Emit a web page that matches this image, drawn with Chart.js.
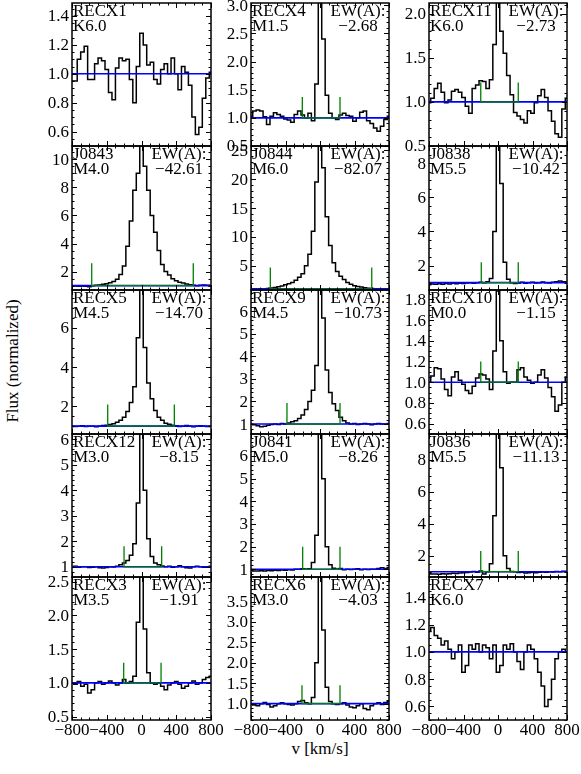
<!DOCTYPE html>
<html><head><meta charset="utf-8">
<script src="https://cdn.jsdelivr.net/npm/chart.js@4.4.1/dist/chart.umd.min.js"></script>
<style>
html,body{margin:0;padding:0;background:#fff;}
#fig{position:relative;width:581px;height:774px;overflow:hidden;background:#fff;}
#fig canvas{position:absolute;}
.lab{position:absolute;font-size:17px;color:#000;white-space:nowrap;line-height:1;}
</style></head><body><div id="fig"></div>
<script>
// ---------------- data ----------------
const velocity = [-800,-760,-720,-680,-640,-600,-560,-520,-480,-440,-400,-360,-320,-280,-240,-200,-160,-120,-80,-40,0,40,80,120,160,200,240,280,320,360,400,440,480,520,560,600,640,680,720,760,800];

const fluxRECX1 = [0.95,0.95,1.10,1.15,1.19,0.96,0.96,1.07,1.11,1.09,1.03,0.87,0.82,1.04,1.11,1.09,1.10,0.96,0.80,1.05,1.28,1.20,1.06,1.08,0.96,0.93,1.03,1.07,1.00,1.11,1.00,0.89,1.05,1.01,0.92,0.70,0.58,0.63,0.83,0.97,1.01];
const fluxRECX4 = [1.03,1.12,1.14,1.12,1.02,0.88,1.03,1.09,1.06,1.03,0.98,0.96,0.92,1.06,1.12,1.05,1.00,1.08,0.95,1.60,3.40,2.40,1.40,1.08,1.00,0.97,1.05,1.08,1.04,1.03,0.94,1.00,1.10,1.12,0.95,0.90,0.82,0.76,0.85,0.97,1.03];
const fluxRECX11 = [0.99,1.04,1.15,1.21,1.11,0.99,1.02,1.12,1.14,1.11,1.05,0.95,0.87,1.15,1.19,1.24,1.23,1.15,1.25,1.65,2.20,1.80,1.55,1.30,1.08,0.88,0.84,0.80,0.76,0.90,0.87,0.99,1.07,1.14,1.05,0.90,0.78,0.64,0.60,0.92,1.04];
const fluxJ0843 = [0.98,0.98,0.95,0.97,0.96,0.93,1.00,1.02,1.05,1.10,1.14,1.20,1.30,1.45,1.80,2.40,3.80,5.60,7.80,9.00,12.0,9.50,7.80,6.00,4.80,3.50,2.50,2.00,1.75,1.50,1.35,1.25,1.18,1.12,1.07,1.02,1.00,1.03,1.05,1.03,1.00];
const fluxJ0844 = [1.00,0.95,0.98,1.00,0.97,1.05,1.15,1.25,1.35,1.50,1.70,1.90,2.10,2.50,3.00,3.60,5.00,7.00,11.0,19.5,30.0,22.0,13.5,8.50,5.50,4.00,3.20,2.60,2.10,1.80,1.55,1.40,1.30,1.20,1.12,1.05,1.00,1.02,0.98,1.00,1.00];
const fluxJ0838 = [0.88,0.92,0.90,0.93,0.90,0.95,0.92,0.96,0.94,0.97,0.95,0.98,1.00,0.97,1.00,1.02,1.00,1.05,1.25,4.00,11.0,6.80,2.20,1.20,1.00,0.95,0.98,1.02,0.97,1.00,1.03,0.98,1.00,1.04,1.00,0.98,1.02,1.05,1.10,1.06,1.02];
const fluxRECX5 = [1.00,0.98,1.00,1.02,0.98,1.00,1.00,0.97,1.00,1.03,1.05,1.08,1.12,1.20,1.30,1.45,1.75,2.20,3.00,5.50,9.00,5.00,3.20,2.40,1.80,1.45,1.30,1.15,1.10,1.05,1.02,0.98,1.00,1.03,1.00,0.97,1.00,1.02,1.00,0.98,1.00];
const fluxRECX9 = [1.00,0.97,0.92,0.88,0.90,0.95,0.98,1.00,0.98,1.02,1.00,1.05,1.10,1.15,1.25,1.40,1.65,2.00,2.50,3.60,7.50,5.70,3.40,2.40,1.90,1.60,1.30,1.15,1.05,1.00,1.02,0.98,1.00,1.03,1.00,0.97,1.00,1.02,1.00,1.00,1.02];
const fluxRECX10 = [1.00,1.06,1.14,1.13,1.03,0.93,0.87,1.05,1.10,1.02,0.98,0.92,0.89,0.96,1.04,1.08,1.07,1.03,0.93,1.30,1.88,1.40,1.10,0.99,1.00,1.00,1.12,1.14,1.05,1.02,0.99,1.00,1.07,1.12,1.04,0.95,0.86,0.72,0.78,1.00,1.05];
const fluxRECX12 = [1.00,1.02,0.98,1.00,1.00,0.97,0.98,1.00,0.96,0.95,0.97,1.00,0.99,1.02,1.08,1.15,1.25,1.45,1.90,3.50,7.00,4.00,2.10,1.40,1.15,1.08,1.03,1.00,1.02,0.98,1.00,1.04,1.00,0.96,0.95,1.00,1.02,1.00,0.98,1.00,1.02];
const fluxJ0841 = [0.95,0.93,0.92,0.94,0.93,0.95,0.94,0.96,0.95,0.97,0.96,0.98,0.97,1.00,1.00,1.02,1.00,1.02,1.30,2.50,8.00,5.00,2.00,1.20,1.05,1.00,1.03,0.98,1.00,0.99,1.00,1.02,0.98,1.00,0.99,1.00,1.00,1.03,1.07,1.04,1.08];
const fluxJ0836 = [0.92,0.85,0.86,0.84,0.87,0.85,0.88,0.90,0.89,0.92,0.93,0.95,0.98,1.02,0.97,1.05,0.85,1.00,1.50,4.50,12.0,7.50,2.00,1.20,1.02,1.00,0.95,0.97,0.92,0.94,0.96,0.93,0.97,0.98,0.96,1.00,0.98,1.02,1.00,1.03,1.02];
const fluxRECX3 = [1.00,0.98,1.02,0.95,0.98,0.85,0.90,1.00,1.02,0.98,1.00,1.03,1.00,0.97,1.00,1.05,1.00,1.02,1.10,1.90,3.00,1.80,1.15,1.00,0.98,1.00,0.95,0.90,0.97,1.00,1.02,0.98,0.92,0.95,1.00,1.03,0.98,1.00,1.05,1.08,1.10];
const fluxRECX6 = [1.00,0.97,0.95,1.00,1.03,0.98,0.92,0.95,1.00,1.02,1.00,0.98,0.97,1.00,1.05,1.08,1.02,1.00,1.15,2.00,4.50,2.80,1.40,1.05,1.00,0.98,1.00,1.02,0.97,0.92,0.90,0.95,1.00,0.88,0.85,0.95,1.00,1.02,0.98,1.03,1.05];
const fluxRECX7 = [1.15,1.18,1.12,1.10,1.05,1.08,1.02,0.95,1.00,1.05,0.85,0.90,1.05,1.02,1.06,1.00,1.05,1.03,0.95,1.05,0.85,0.90,1.05,1.02,1.06,1.00,0.93,0.87,1.00,1.05,1.02,0.95,0.85,0.75,0.60,0.65,0.80,0.95,1.00,1.02,1.00];

const panelNames = ['RECX1','RECX4','RECX11','J0843','J0844','J0838','RECX5','RECX9','RECX10','RECX12','J0841','J0836','RECX3','RECX6','RECX7'];
const spectralTypes = ['K6.0','M1.5','K6.0','M4.0','M6.0','M5.5','M4.5','M4.5','M0.0','M3.0','M5.0','M5.5','M3.5','M3.0','K6.0'];
const ewValues = [null,'\u22122.68','\u22122.73','\u221242.61','\u221282.07','\u221210.42','\u221214.70','\u221210.73','\u22121.15','\u22128.15','\u22128.26','\u221211.13','\u22121.91','\u22124.03',null];
const fluxes = [fluxRECX1,fluxRECX4,fluxRECX11,fluxJ0843,fluxJ0844,fluxJ0838,fluxRECX5,fluxRECX9,fluxRECX10,fluxRECX12,fluxJ0841,fluxJ0836,fluxRECX3,fluxRECX6,fluxRECX7];

// integration limits (km/s) and marker tops
const ewLow  = [null,-205,-200,-573,-576,-194,-389,-383,-200,-201,-201,-200,-205,-209,null];
const ewHigh = [null, 232, 235, 596, 600, 235, 378, 232, 235, 232, 232, 235, 225, 232,null];
const markerTop = [null,1.37,1.22,2.6,4.7,2.2,2.1,1.93,1.2,1.8,2.0,2.3,1.3,1.45,null];

// axis ranges and tick labels
const yMin = [0.5,0.5,0.5, 0.69,0.8,0.57, 0.6,0.56,0.5, 0.6,0.66,0.67, 0.45,0.6,0.5];
const yMax = [1.49,3.04,2.12, 10.95,25.75,9.0, 7.93,6.94,1.89, 6.2,6.97,9.6, 2.57,4.1,1.55];
const yTickLabels = [
  ['0.6','0.8','1.0','1.2','1.4'],
  ['0.5','1.0','1.5','2.0','2.5','3.0'],
  ['0.5','1.0','1.5','2.0'],
  ['2','4','6','8','10'],
  ['5','10','15','20','25'],
  ['2','4','6','8'],
  ['2','4','6'],
  ['1','2','3','4','5','6'],
  ['0.6','0.8','1.0','1.2','1.4','1.6','1.8'],
  ['1','2','3','4','5','6'],
  ['1','2','3','4','5','6'],
  ['2','4','6','8'],
  ['0.5','1.0','1.5','2.0','2.5'],
  ['1.0','1.5','2.0','2.5','3.0','3.5'],
  ['0.6','0.8','1.0','1.2','1.4']
];
const yMinorStep = [0.05,0.1,0.1, 0.5,1,0.5, 0.5,0.2,0.05, 0.2,0.2,0.5, 0.1,0.1,0.05];
const xTickValues = [-800,-400,0,400,800];
const xTickLabels = ['\u2212800','\u2212400','0','400','800'];
const xMinorStep = 100;
const xLabel = 'v [km/s]';
const yLabel = 'Flux (normalized)';

// ---------------- layout ----------------
const colLeft = [72,251,429], colRight = [211,389,567];
const rowTop = [3,146,290,434,577], rowBottom = [146,290,434,577,720];
const PADL = 44, PADR = 24, PADT = 12, PADB = 12, PADB_LAST = 34;

// pick an installed serif font
function pickFamily() {
  const ctx = document.createElement('canvas').getContext('2d');
  const s = 'RECX1 EW(A): mmwwlli 0.5';
  const cands = ['Liberation Serif', 'Times New Roman', 'Tinos', 'Nimbus Roman', 'FreeSerif', 'DejaVu Serif', 'Noto Serif'];
  for (const f of cands) {
    for (const base of ['monospace', 'sans-serif']) {
      ctx.font = '40px ' + base; const w0 = ctx.measureText(s).width;
      ctx.font = '40px "' + f + '", ' + base; const w1 = ctx.measureText(s).width;
      if (Math.abs(w1 - w0) > 0.5) return '"' + f + '"';
    }
  }
  return 'serif';
}
let FONT = '17px serif';

const framePlugin = {
  id: 'frame',
  afterDatasetsDraw(chart, args, o) {
    const {ctx, chartArea: a, scales: {x, y}} = chart;
    ctx.save();
    ctx.strokeStyle = '#000';
    ctx.lineWidth = 1.5;
    ctx.strokeRect(a.left, a.top, a.right - a.left, a.bottom - a.top);
    ctx.lineWidth = 1;
    ctx.beginPath();
    for (let v = -800; v <= 800; v += xMinorStep) {
      const px = Math.round(x.getPixelForValue(v)) + 0.5;
      const len = (v % 400 === 0) ? 5 : 2.5;
      ctx.moveTo(px, a.bottom); ctx.lineTo(px, a.bottom - len);
      ctx.moveTo(px, a.top); ctx.lineTo(px, a.top + len);
    }
    const ms = o.minor;
    const start = Math.ceil(y.min / ms - 1e-6);
    const end = Math.floor(y.max / ms + 1e-6);
    for (let k = start; k <= end; k++) {
      const py = Math.round(y.getPixelForValue(k * ms)) + 0.5;
      ctx.moveTo(a.left, py); ctx.lineTo(a.left + 2.5, py);
      ctx.moveTo(a.right, py); ctx.lineTo(a.right - 2.5, py);
    }
    o.yLabels.forEach(t => {
      const py = Math.round(y.getPixelForValue(parseFloat(t))) + 0.5;
      ctx.moveTo(a.left, py); ctx.lineTo(a.left + 5, py);
      ctx.moveTo(a.right, py); ctx.lineTo(a.right - 5, py);
    });
    ctx.stroke();

    ctx.fillStyle = '#000';
    ctx.font = FONT;
    ctx.textAlign = 'right'; ctx.textBaseline = 'middle';
    o.yLabels.forEach(t => {
      ctx.fillText(t, a.left - 3, y.getPixelForValue(parseFloat(t)) + 1);
    });
    if (o.showX) {
      ctx.textAlign = 'center'; ctx.textBaseline = 'top';
      xTickValues.forEach((v, i) => ctx.fillText(xTickLabels[i], x.getPixelForValue(v), a.bottom + 2));
    }
    ctx.textBaseline = 'alphabetic';
    ctx.textAlign = 'left';
    ctx.fillText(o.name, a.left + 1, a.top + 13);
    ctx.fillText(o.sptype, a.left + 1, a.top + 28);
    if (o.ew) {
      ctx.textAlign = 'center';
      ctx.fillText('EW(A):', a.left + 107, a.top + 13);
      ctx.fillText(o.ew, a.left + 107, a.top + 28);
    }
    ctx.restore();
  }
};

const fig = document.getElementById('fig');

function buildAll() {
  const fam = pickFamily();
  const size = fam.indexOf('DejaVu') >= 0 ? 15 : 17;
  FONT = size + 'px ' + fam + ', serif';

  const yl = document.createElement('div');
  yl.className = 'lab'; yl.textContent = yLabel;
  yl.style.fontFamily = fam + ', serif'; yl.style.fontSize = size + 'px';
  yl.style.left = '12px'; yl.style.top = '361px';
  yl.style.transform = 'translate(-50%,-50%) rotate(-90deg)';
  fig.appendChild(yl);
  const xl = document.createElement('div');
  xl.className = 'lab'; xl.textContent = xLabel;
  xl.style.fontFamily = fam + ', serif'; xl.style.fontSize = size + 'px';
  xl.style.left = '320px'; xl.style.top = '748px';
  xl.style.transform = 'translate(-50%,-50%)';
  fig.appendChild(xl);

  for (let k = 0; k < 15; k++) {
    const r = Math.floor(k / 3), c = k % 3;
    const last = (r === 4);
    const pw = colRight[c] - colLeft[c], ph = rowBottom[r] - rowTop[r];
    const pb = last ? PADB_LAST : PADB;
    const W = PADL + pw + PADR, H = PADT + ph + pb;
    const cv = document.createElement('canvas');
    cv.width = W; cv.height = H;
    cv.style.width = W + 'px'; cv.style.height = H + 'px';
    cv.style.left = (colLeft[c] - PADL) + 'px';
    cv.style.top = (rowTop[r] - PADT) + 'px';
    fig.appendChild(cv);

    const hist = velocity.map((v, i) => ({x: v, y: fluxes[k][i]}));
    const cont = [{x: -800, y: 1}, {x: 800, y: 1}];
    const marks = ewLow[k] === null ? [] : [
      {x: ewLow[k], y: markerTop[k]}, {x: ewLow[k], y: 1},
      {x: ewHigh[k], y: 1}, {x: ewHigh[k], y: markerTop[k]}
    ];

    new Chart(cv, {
      type: 'line',
      data: {datasets: [
        {data: marks, borderColor: '#008000', borderWidth: 1.3, pointRadius: 0, fill: false, tension: 0, clip: 0},
        {data: cont, borderColor: '#0000ff', borderWidth: 1.6, pointRadius: 0, fill: false, tension: 0, clip: 0},
        {data: hist, borderColor: '#000000', borderWidth: 1.5, pointRadius: 0, fill: false, stepped: 'middle', clip: 0}
      ]},
      options: {
        responsive: false, animation: false, devicePixelRatio: 1, events: [],
        layout: {padding: {left: PADL, right: PADR, top: PADT, bottom: pb}},
        scales: {
          x: {type: 'linear', min: -800, max: 800, display: false},
          y: {type: 'linear', min: yMin[k], max: yMax[k], display: false}
        },
        plugins: {
          legend: {display: false}, tooltip: {enabled: false},
          frame: {name: panelNames[k], sptype: spectralTypes[k], ew: ewValues[k],
                  yLabels: yTickLabels[k], minor: yMinorStep[k], showX: last}
        }
      },
      plugins: [framePlugin]
    });
  }
}

let built = false;
function go() { if (!built) { built = true; buildAll(); } }
const fontReq = ['17px "Liberation Serif"', '17px "Times New Roman"', '15px "DejaVu Serif"'];
if (document.fonts && document.fonts.load) {
  Promise.all(fontReq.map(f => document.fonts.load(f, 'RECX1').catch(() => null))).then(go, go);
  setTimeout(go, 1500);
} else { go(); }
</script>
</body></html>
